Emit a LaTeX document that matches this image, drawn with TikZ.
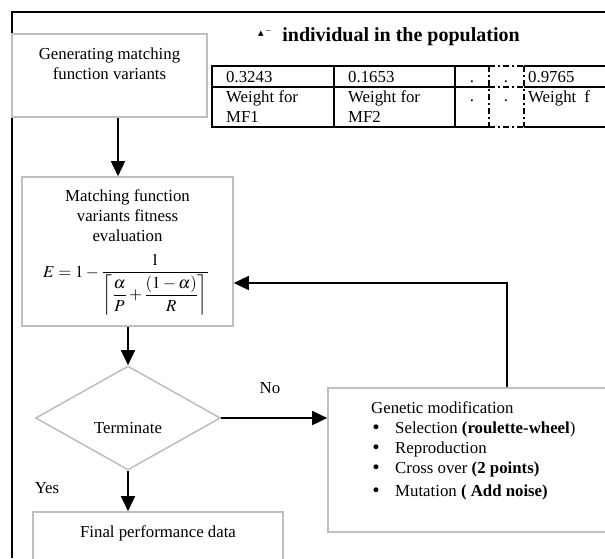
\documentclass[tikz,border=0pt]{standalone}
\usepackage{amsmath}
\usepackage{mathptmx}
\usepackage{fontspec}
\setmainfont{Liberation Serif}
\newfontfamily\symfont{DejaVu Sans}
\usetikzlibrary{shapes.geometric,arrows.meta}

\begin{document}
\begin{tikzpicture}[x=1pt,y=-1pt,
  txt/.style={font=\fontsize{16.8}{20}\selectfont,inner sep=0pt},
  graybox/.style={rectangle,draw=black!25,line width=1.6pt,inner sep=0pt},
  flow/.style={-{Triangle[length=15pt,width=14pt]},line width=1.6pt},
  cellline/.style={line width=1.6pt},
  dashcell/.style={line width=1.6pt,dash pattern=on 6pt off 3pt on 2pt off 3pt}]
\clip (0,0) rectangle (605,558);

% Frame
\draw[line width=1.4pt] (12,558) -- (12,12) -- (605,12);

% Generating variants
\node[graybox,minimum width=195pt,minimum height=83pt] (gen) at (109.5,75.5) {};
\node[txt,align=center,anchor=north] (gentxt) at (109.5,48) {Generating matching\\function variants};

% Individual in the population
\node[txt,anchor=base west] (poptitle) at (258,41) {\raisebox{5pt}{\symfont\fontsize{11}{11}\selectfont ▴\,⁻}\hspace{11pt}\fontsize{20}{22}\selectfont\bfseries individual in the population};
\draw[cellline] (489,66) -- (212,66) -- (212,127) -- (489,127);
\draw[cellline] (212,87) -- (489,87);
\draw[cellline] (334,66) -- (334,127);
\draw[cellline] (455,66) -- (455,127);
\draw[dashcell] (489,66) -- (524,66) (489,87) -- (524,87) (489,127) -- (524,127);
\draw[dashcell] (489,66) -- (489,127) (524,66) -- (524,127);
\draw[cellline] (524,66) -- (620,66) (524,87) -- (620,87) (524,127) -- (620,127);
\node[txt,anchor=base west] (w1) at (226,82.5) {0.3243};
\node[txt,anchor=base west] (w2) at (348,82.5) {0.1653};
\node[txt,anchor=base] (w3) at (472,82.5) {.};
\node[txt,anchor=base] (w4) at (506,82.5) {.};
\node[txt,anchor=base west] (wn) at (528,82.5) {0.9765};
\node[txt,align=left,anchor=north west] (mf1) at (226,90) {Weight for\\MF1};
\node[txt,align=left,anchor=north west] (mf2) at (348,90) {Weight for\\MF2};
\node[txt,anchor=base] (mf3) at (472,101) {.};
\node[txt,anchor=base] (mf4) at (506,101) {.};
\node[txt,align=left,anchor=north west] (mfn) at (528,90) {Weight\hspace{8pt}f};

% Fitness evaluation
\node[graybox,minimum width=211pt,minimum height=149pt] (fit) at (127.5,251.5) {};
\node[txt,align=center,anchor=north] (fittxt) at (127.5,189) {Matching function\\variants fitness\\evaluation};
\node[txt,anchor=base west] (fitform) at (43,277) {$E=1-\dfrac{1}{\left\lceil\dfrac{\alpha}{P}+\dfrac{(1-\alpha)}{R}\right\rceil}$};

% Terminate
\node[diamond,draw=black!25,line width=1.6pt,inner sep=0pt,aspect=1.8,minimum width=185pt,minimum height=104pt] (term) at (128,418) {};
\node[txt] (termtxt) at (128,428) {Terminate};
\node[txt] (nolbl) at (270,388) {No};
\node[txt] (yeslbl) at (47,488) {Yes};

% Final data
\node[graybox,minimum width=250pt,minimum height=70pt] (fin) at (158,547) {};
\node[txt] (fintxt) at (158,533) {Final performance data};

% Genetic modification
\node[graybox,minimum width=312pt,minimum height=144pt] (gm) at (484,460) {};
\node[txt,align=left,anchor=north west] (gmtxt) at (371,401) {Genetic modification\\
\makebox[24pt][l]{{\symfont •}}Selection \textbf{(roulette-wheel})\\
\makebox[24pt][l]{{\symfont •}}Reproduction\\
\makebox[24pt][l]{{\symfont •}}Cross over \textbf{(2 points)}\\[3pt]
\makebox[24pt][l]{{\symfont •}}Mutation \textbf{( Add noise)}};

% Arrows
\coordinate (genarr) at (118,0);
\coordinate (loopc) at (507,283);
\draw[flow] (gen.south -| genarr) -- (fit.north -| genarr);
\draw[flow] (fit.south -| term.north) -- (term.north);
\draw[flow] (term.east) -- (term.east -| gm.west);
\draw[flow] (term.south) -- (term.south |- fin.north);
\draw[flow] (gm.north -| loopc) -- (loopc) -- (loopc -| fit.east);
\end{tikzpicture}
\end{document}
